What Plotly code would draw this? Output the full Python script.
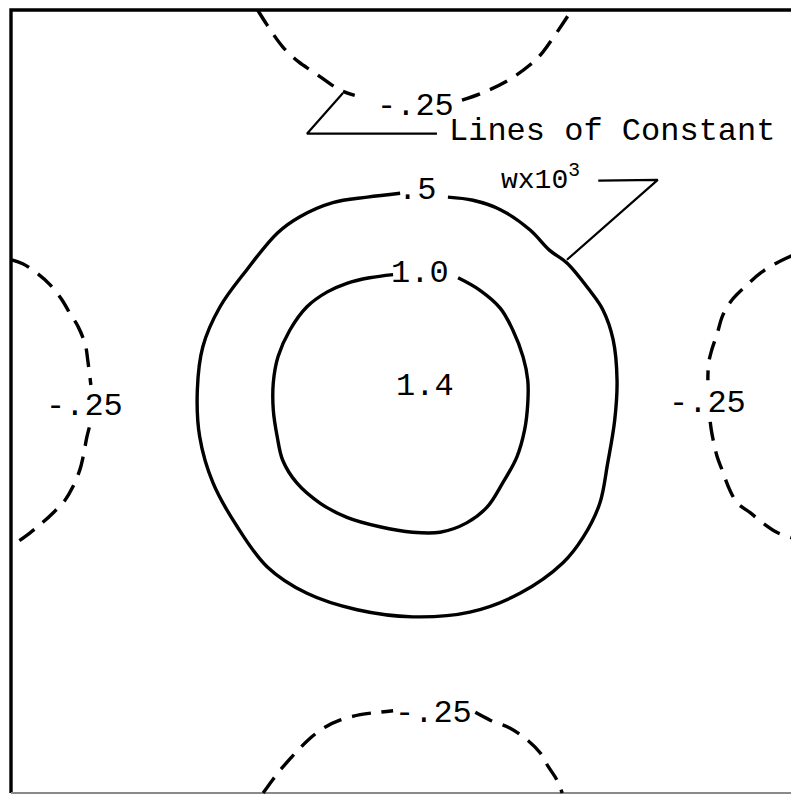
import plotly.graph_objects as go

# Deflection contours of a square plate, w x 10^3, in normalised plate
# coordinates (x, y from 0 to 1 along each side).  None splits a line
# where its value label sits.

contour_levels = [-0.25, 0.5, 1.0]
peak_value = 1.4

# w x 10^3 = 1.0
c100_x = [0.571, 0.599, 0.625, 0.641, 0.654, 0.660, 0.660, 0.656, 0.646, 0.628,
          0.608, 0.582, 0.548, 0.513, 0.471, 0.429, 0.395, 0.365, 0.347, 0.340,
          0.335, 0.335, 0.341, 0.356, 0.378, 0.404, 0.429, 0.458, 0.488]
c100_y = [0.658, 0.642, 0.619, 0.591, 0.557, 0.527, 0.498, 0.464, 0.429, 0.396,
          0.365, 0.345, 0.333, 0.333, 0.340, 0.352, 0.370, 0.396, 0.425, 0.455,
          0.489, 0.524, 0.557, 0.591, 0.621, 0.640, 0.651, 0.658, 0.662]

# w x 10^3 = 0.5
c050_x = [0.558, 0.590, 0.625, 0.663, 0.688, 0.710, 0.739, 0.756, 0.769, 0.774,
          0.771, 0.762, 0.752, 0.731, 0.705, 0.650, 0.586, 0.513, 0.442, 0.378,
          0.327, 0.289, 0.258, 0.241, 0.238, 0.245, 0.267, 0.301, 0.340, 0.369,
          0.411, 0.455, 0.497]
c050_y = [0.761, 0.757, 0.745, 0.719, 0.693, 0.677, 0.642, 0.617, 0.579, 0.527,
          0.476, 0.421, 0.370, 0.327, 0.294, 0.255, 0.231, 0.225, 0.234, 0.255,
          0.289, 0.340, 0.396, 0.455, 0.515, 0.570, 0.621, 0.668, 0.715, 0.736,
          0.754, 0.761, 0.766]

# w x 10^3 = -0.25, four lobes centred on the edge midpoints
neg_top_x = [0.315, 0.327, 0.347, 0.367, 0.386, 0.420, 0.439, None,
             0.576, 0.599, 0.633, 0.663, 0.679, 0.692, 0.705, 0.716]
neg_top_y = [1.000, 0.981, 0.953, 0.934, 0.921, 0.898, 0.891, None,
             0.885, 0.893, 0.909, 0.930, 0.946, 0.964, 0.983, 1.000]

neg_left_x = [0.001, 0.015, 0.033, 0.050, 0.065, 0.075, 0.086, 0.095, 0.098, 0.102, None,
              0.100, 0.097, 0.092, 0.088, 0.079, 0.069, 0.054, 0.041, 0.024, 0.003]
neg_left_y = [0.681, 0.676, 0.664, 0.649, 0.630, 0.613, 0.595, 0.572, 0.553, 0.521, None,
              0.467, 0.455, 0.429, 0.413, 0.391, 0.374, 0.358, 0.346, 0.332, 0.317]

neg_right_x = [0.997, 0.978, 0.957, 0.940, 0.921, 0.909, 0.902, 0.895, 0.891, 0.890, None,
               0.893, 0.895, 0.902, 0.908, 0.918, 0.928, 0.944, 0.960, 0.978, 0.997]
neg_right_y = [0.686, 0.677, 0.664, 0.649, 0.630, 0.610, 0.587, 0.566, 0.549, 0.527, None,
               0.474, 0.460, 0.429, 0.413, 0.387, 0.370, 0.358, 0.345, 0.333, 0.326]

neg_bottom_x = [0.322, 0.335, 0.347, 0.367, 0.382, 0.401, 0.420, 0.446, 0.469, 0.488, None,
                0.593, 0.612, 0.637, 0.659, 0.676, 0.686, 0.697, 0.704]
neg_bottom_y = [0.000, 0.018, 0.033, 0.055, 0.070, 0.084, 0.093, 0.100, 0.103, 0.105, None,
                0.103, 0.093, 0.083, 0.068, 0.051, 0.034, 0.017, 0.000]

# Plate edges
edge_x = [0, 0, 1, 1]
edge_y = [0, 1, 1, 0]
bottom_edge_x = [0, 1]
bottom_edge_y = [0, 0]

# Leader lines for the "Lines of Constant wx10^3" callout
leader_top_x = [0.424, 0.378, 0.544]
leader_top_y = [0.894, 0.842, 0.842]
leader_right_x = [0.750, 0.826, 0.710]
leader_right_y = [0.782, 0.783, 0.681]


def level_text(v):
    """Typewriter-style value label: '-.25', '.5', '1.0', '1.4'."""
    if abs(v) < 1:
        return f"{v:g}".replace("0.", ".")
    return f"{v:.1f}"


FONT = dict(family="Courier New, Liberation Mono, monospace", size=32, color="black")
SOLID = dict(color="black", width=3.4)
DASHED = dict(color="black", width=3.4, dash="19px,11px")

fig = go.Figure()


def add_line(x, y, line, shape="spline"):
    fig.add_trace(go.Scatter(x=x, y=y, mode="lines", line=dict(**line, shape=shape),
                             connectgaps=False, hoverinfo="skip"))


add_line(edge_x, edge_y, dict(color="black", width=3.4), shape="linear")
add_line(bottom_edge_x, bottom_edge_y, dict(color="#8a8a8a", width=2), shape="linear")

add_line(c100_x, c100_y, SOLID)
add_line(c050_x, c050_y, SOLID)
for lx, ly in [(neg_top_x, neg_top_y), (neg_left_x, neg_left_y),
               (neg_right_x, neg_right_y), (neg_bottom_x, neg_bottom_y)]:
    add_line(lx, ly, DASHED)

add_line(leader_top_x, leader_top_y, dict(color="black", width=2.2), shape="linear")
add_line(leader_right_x, leader_right_y, dict(color="black", width=2.2), shape="linear")

neg, half, one = contour_levels
labels = [
    (level_text(peak_value), 0.529, 0.519),
    (level_text(one), 0.522, 0.664),
    (level_text(half), 0.519, 0.770),
    (level_text(neg), 0.517, 0.877),
    (level_text(neg), 0.0945, 0.494),
    (level_text(neg), 0.889, 0.498),
    (level_text(neg), 0.540, 0.101),
]
for text, x, y in labels:
    fig.add_annotation(x=x, y=y, xref="x", yref="y", text=text, showarrow=False,
                       font=FONT, xanchor="center", yanchor="middle")

fig.add_annotation(x=0.768, y=0.845, xref="x", yref="y", text="Lines of Constant",
                   showarrow=False, font=FONT, xanchor="center", yanchor="middle")
fig.add_annotation(x=0.676, y=0.786, xref="x", yref="y", text="wx10<sup>3</sup>",
                   showarrow=False, font=dict(FONT, size=28),
                   xanchor="center", yanchor="middle")

fig.update_layout(
    width=791, height=794, autosize=False,
    margin=dict(l=0, r=0, t=0, b=0, pad=0),
    paper_bgcolor="white", plot_bgcolor="white",
    showlegend=False,
    xaxis=dict(range=[-11 / 783, 780 / 783], visible=False, fixedrange=True),
    yaxis=dict(range=[-1 / 783, 793 / 783], visible=False, fixedrange=True),
)

fig.write_html("out.html")
